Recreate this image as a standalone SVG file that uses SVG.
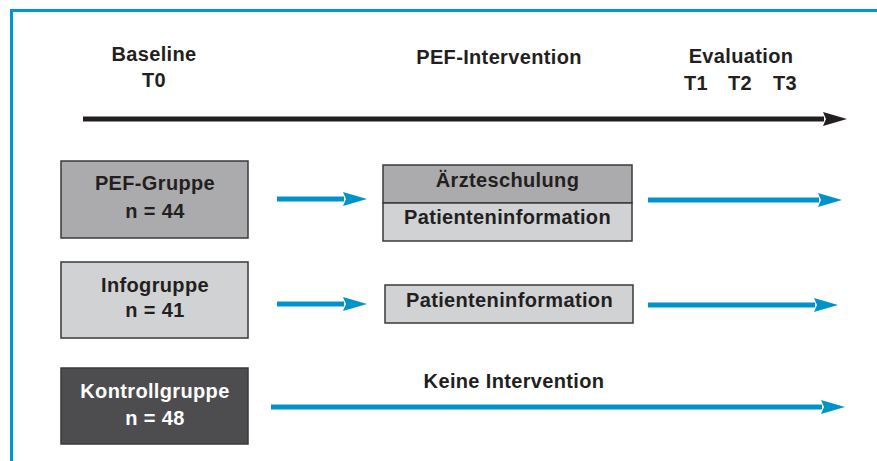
<svg xmlns="http://www.w3.org/2000/svg" width="877" height="461" viewBox="0 0 877 461">
<style>
text{font-family:"Liberation Sans",Arial,sans-serif;font-weight:bold;font-size:20px;letter-spacing:0.35px;fill:#231f20;text-anchor:middle}
.box{stroke:#3a3a3a;stroke-width:1.5}
.dark{fill:#ababad}
.light{fill:#d1d2d4}
.black{fill:#4d4d4f}
.wt{fill:#ffffff}
.blue{stroke:#0093c9;stroke-width:5;fill:none}
</style>
<defs>
<marker id="bh" markerUnits="userSpaceOnUse" markerWidth="26" markerHeight="16" refX="1" refY="7.5" orient="auto">
<path d="M0,0.5 L24,7.5 L0,14.5 L3,7.5 z" fill="#0093c9"/>
</marker>
<marker id="kh" markerUnits="userSpaceOnUse" markerWidth="26" markerHeight="16" refX="1" refY="7.5" orient="auto">
<path d="M0,0.5 L24,7.5 L0,14.5 L3,7.5 z" fill="#231f20"/>
</marker>
</defs>
<rect width="877" height="461" fill="#ffffff"/>
<path d="M11.5,461 V10.5 H877" fill="none" stroke="#0096d6" stroke-width="3"/>
<g id="header">
<text x="154" y="61">Baseline</text>
<text x="154" y="87">T0</text>
<text x="499" y="64">PEF-Intervention</text>
<text x="741" y="63">Evaluation</text>
<text x="696" y="90">T1</text>
<text x="740" y="90">T2</text>
<text x="785" y="90">T3</text>
</g>
<g id="timeline">
<line x1="83" y1="119" x2="824" y2="119" stroke="#231f20" stroke-width="5" marker-end="url(#kh)"/>
</g>
<g id="pef-gruppe">
<rect class="box dark" x="61" y="161" width="187" height="77"/>
<text x="155" y="190">PEF-Gruppe</text>
<text x="155" y="218">n = 44</text>
</g>
<g id="pef-intervention">
<rect class="box dark" x="383" y="165" width="249" height="38"/>
<rect class="box light" x="383" y="203" width="249" height="38"/>
<text x="507.5" y="187">Ärzteschulung</text>
<text x="507.5" y="224">Patienteninformation</text>
</g>
<g id="infogruppe">
<rect class="box light" x="61" y="262" width="187" height="76"/>
<text x="155" y="292">Infogruppe</text>
<text x="155" y="317">n = 41</text>
</g>
<g id="info-intervention">
<rect class="box light" x="385" y="285" width="248" height="38"/>
<text x="509.5" y="307">Patienteninformation</text>
</g>
<g id="kontrollgruppe">
<rect class="box black" x="61" y="368" width="187" height="76"/>
<text class="wt" x="155" y="398">Kontrollgruppe</text>
<text class="wt" x="155" y="425">n = 48</text>
</g>
<g id="connectors">
<line class="blue" x1="277" y1="199" x2="344" y2="199" marker-end="url(#bh)"/>
<line class="blue" x1="648" y1="200" x2="819" y2="200" marker-end="url(#bh)"/>
<line class="blue" x1="277" y1="304" x2="344" y2="304" marker-end="url(#bh)"/>
<line class="blue" x1="648" y1="305" x2="815" y2="305" marker-end="url(#bh)"/>
<line class="blue" x1="271" y1="407" x2="822" y2="407" marker-end="url(#bh)"/>
<text x="514" y="388">Keine Intervention</text>
</g>
</svg>
